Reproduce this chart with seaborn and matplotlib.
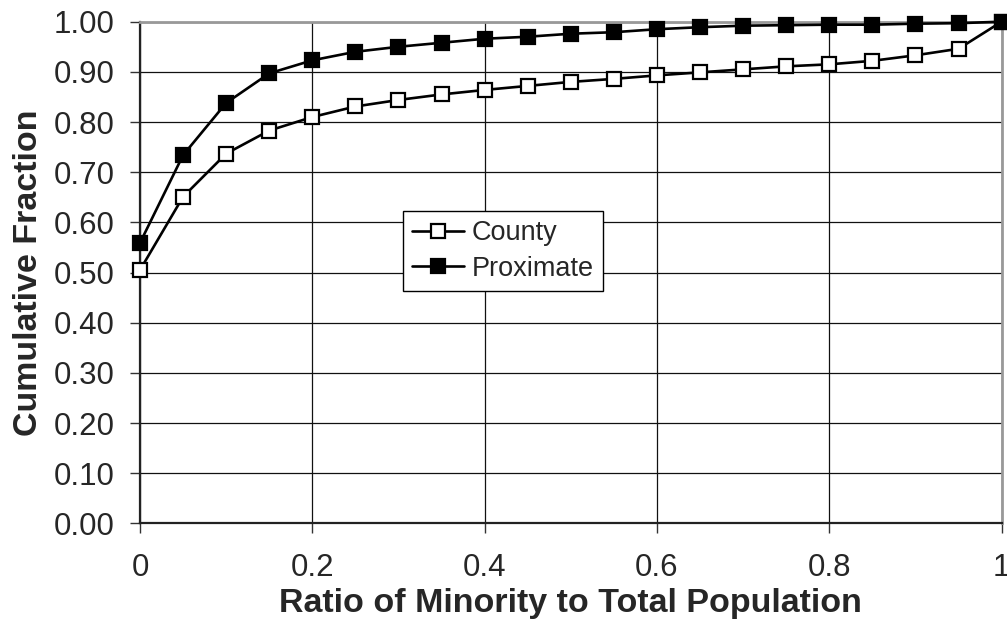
import numpy as np
import pandas as pd
import matplotlib
matplotlib.use("Agg")
import matplotlib.pyplot as plt
import seaborn as sns

ratio = [0.00, 0.05, 0.10, 0.15, 0.20, 0.25, 0.30, 0.35, 0.40, 0.45, 0.50,
         0.55, 0.60, 0.65, 0.70, 0.75, 0.80, 0.85, 0.90, 0.95, 1.00]
county = [0.505, 0.651, 0.737, 0.783, 0.810, 0.831, 0.844, 0.855, 0.864, 0.872, 0.880,
          0.886, 0.893, 0.899, 0.905, 0.911, 0.915, 0.922, 0.933, 0.946, 1.000]
proximate = [0.559, 0.734, 0.838, 0.897, 0.923, 0.940, 0.950, 0.958, 0.966, 0.970, 0.976,
             0.979, 0.985, 0.989, 0.992, 0.993, 0.994, 0.994, 0.996, 0.997, 1.000]
series_names = ["County", "Proximate"]
xticks = [0, 0.2, 0.4, 0.6, 0.8, 1.0]
xticklabels = ["0", "0.2", "0.4", "0.6", "0.8", "1"]
yticks = [0.0, 0.1, 0.2, 0.3, 0.4, 0.5, 0.6, 0.7, 0.8, 0.9, 1.0]
yticklabels = ["%.2f" % v for v in yticks]
xlabel = "Ratio of Minority to Total Population"
ylabel = "Cumulative Fraction"

df = pd.DataFrame({
    "ratio": ratio * 2,
    "value": county + proximate,
    "series": [series_names[0]] * len(ratio) + [series_names[1]] * len(ratio),
})

sns.set_style("white")
plt.rcParams["font.family"] = ["Liberation Sans", "DejaVu Sans"]

fig = plt.figure(figsize=(10.07, 6.32), dpi=100)
ax = fig.add_axes([0.139, 0.1717, 0.8557, 0.794])

facecolors = {"County": "white", "Proximate": "black"}
for name in series_names:
    sub = df[df["series"] == name]
    sns.lineplot(data=sub, x="ratio", y="value", ax=ax, color="black",
                 linewidth=1.9, marker="s", markersize=9.5,
                 markerfacecolor=facecolors[name], markeredgecolor="black",
                 markeredgewidth=1.6, label=name, clip_on=False, zorder=5)

ax.set_xlim(0, 1)
ax.set_ylim(0, 1)
ax.set_xticks(xticks)
ax.set_xticklabels(xticklabels)
ax.set_yticks(yticks)
ax.set_yticklabels(yticklabels)
ax.grid(True, color="#111111", linewidth=0.9)
ax.set_axisbelow(True)

ax.tick_params(axis="both", which="both", direction="out", length=7, width=1,
               color="#333333", labelsize=22.5, bottom=True, left=True)
ax.tick_params(axis="x", pad=14)
ax.tick_params(axis="y", pad=11)

for side in ["top", "right"]:
    ax.spines[side].set_color("#999999")
    ax.spines[side].set_linewidth(2)
for side in ["left", "bottom"]:
    ax.spines[side].set_color("#222222")
    ax.spines[side].set_linewidth(1.6)

ax.set_xlabel(xlabel, fontsize=24.5, fontweight="bold", labelpad=4)
ax.set_ylabel(ylabel, fontsize=24.5, fontweight="bold", labelpad=7)

leg = ax.legend(loc="upper left", bbox_to_anchor=(0.305, 0.623), borderaxespad=0,
                fontsize=19.5, frameon=True, fancybox=False, handlelength=1.9,
                handletextpad=0.3, labelspacing=0.35, borderpad=0.35)
leg.get_frame().set_edgecolor("black")
leg.get_frame().set_linewidth(1.0)
leg.get_frame().set_alpha(1)

fig.savefig("out.png", dpi=100)
